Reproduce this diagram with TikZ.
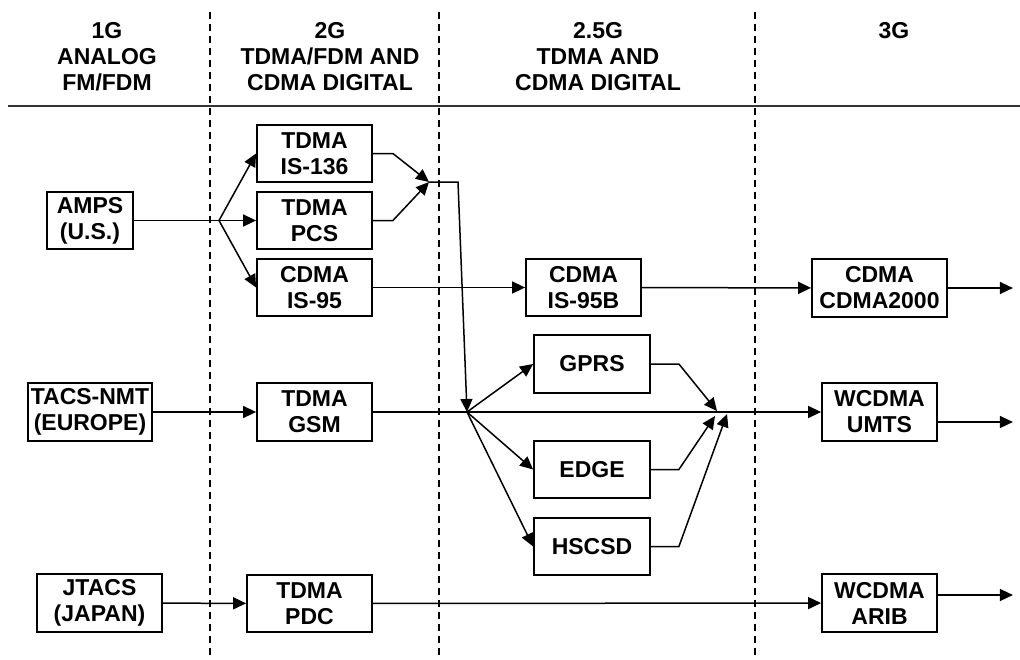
\documentclass[tikz,border=0pt]{standalone}
\usepackage{fontspec}
\setmainfont{Liberation Sans}
\usetikzlibrary{arrows.meta}
\tikzset{
  genbox/.style={draw, line width=1.8pt, align=center, inner sep=2pt, minimum width=115pt, minimum height=57pt, font=\bfseries\fontsize{23}{26}\selectfont},
  headtxt/.style={align=center, inner sep=0pt, font=\bfseries\fontsize{23}{26}\selectfont},
  flow/.style={-{Triangle[length=13pt,width=12pt]}, line width=1.5pt},
  link/.style={line width=1.5pt},
  eraline/.style={line width=2pt, dash pattern=on 7pt off 5pt}
}
\begin{document}
\begin{tikzpicture}[x=1pt, y=-1pt]
  \useasboundingbox (0,0) rectangle (1020,659);
  % era headings
  \node[headtxt] (h1) at (107,57) {1G\\ANALOG\\FM/FDM};
  \node[headtxt] (h2) at (330,57) {2G\\TDMA/FDM AND\\CDMA DIGITAL};
  \node[headtxt] (h25) at (598,57) {2.5G\\TDMA AND\\CDMA DIGITAL};
  \node[headtxt] (h3) at (894,31) {3G};
  \draw[line width=2.4pt, black!80] (8,106) -- (1020,106);
  \foreach \xe in {210,439,755}
    \draw[eraline] (\xe,12) -- (\xe,657);
  % 1G
  \node[genbox, minimum width=86pt] (amps) at (90,220.5) {AMPS\\(U.S.)};
  \node[genbox, minimum width=124pt, minimum height=58pt] (tacs) at (90,412) {TACS-NMT\\(EUROPE)};
  \node[genbox, minimum width=125pt, minimum height=58pt] (jtacs) at (99.5,603) {JTACS\\(JAPAN)};
  % 2G
  \node[genbox] (is136) at (314.5,153.5) {TDMA\\IS-136};
  \node[genbox] (pcs) at (314.5,220.5) {TDMA\\PCS};
  \node[genbox] (is95) at (314.5,287.5) {CDMA\\IS-95};
  \node[genbox, minimum height=58pt] (gsm) at (314.5,412) {TDMA\\GSM};
  \node[genbox, minimum width=125pt] (pdc) at (309.5,603.5) {TDMA\\PDC};
  % 2.5G
  \node[genbox] (is95b) at (583.5,287.5) {CDMA\\IS-95B};
  \node[genbox, minimum width=116pt, minimum height=58pt] (gprs) at (592,364) {GPRS};
  \node[genbox, minimum width=116pt] (edge) at (592,469.5) {EDGE};
  \node[genbox, minimum width=116pt] (hscsd) at (592,546.5) {HSCSD};
  % 3G
  \node[genbox, minimum width=135pt, minimum height=58pt] (cdma2k) at (879.5,288) {CDMA\\CDMA2000};
  \node[genbox, minimum height=58pt] (umts) at (879.5,412) {WCDMA\\UMTS};
  \node[genbox, minimum height=58pt] (arib) at (879.5,603) {WCDMA\\ARIB};
  % junction points
  \coordinate (fork) at (219,220.5);
  \coordinate (merge) at (429,182);
  \coordinate (split) at (467,412);
  \coordinate (joina) at (717,411);
  \coordinate (joinb) at (715,416);
  \coordinate (joinc) at (727,414);
  % AMPS branch
  \draw[link] (amps) -- (fork);
  \draw[flow] (fork) -- (is136.west);
  \draw[flow] (fork) -- (pcs);
  \draw[flow] (fork) -- (is95.west);
  \draw[flow] (is136.east) -- ++(20,0) -- (merge);
  \draw[flow] (pcs.east) -- ++(20,0) -- (merge);
  \draw[flow] (merge) -- ++(29,0) -- (split);
  \draw[flow] (is95) -- (is95b);
  \draw[flow] (is95b) -- (cdma2k);
  \draw[flow] (cdma2k.east) -- ++(65,0);
  % GSM branch
  \draw[flow] (tacs) -- (gsm);
  \draw[flow] (gsm) -- (umts);
  \draw[flow] (split) -- (gprs.west);
  \draw[flow] (split) -- (edge.west);
  \draw[flow] (split) -- (hscsd.west);
  \draw[flow] (gprs.east) -- ++(28,0) -- (joina);
  \draw[flow] (edge.east) -- ++(28,0) -- (joinb);
  \draw[flow] (hscsd.east) -- ++(28,0) -- (joinc);
  \draw[flow] ([yshift=-10pt]umts.east) -- ++(75,0);
  % PDC branch
  \draw[flow] (jtacs) -- (pdc);
  \draw[flow] (pdc) -- (arib);
  \draw[flow] ([yshift=8pt]arib.east) -- ++(75,0);
\end{tikzpicture}
\end{document}
